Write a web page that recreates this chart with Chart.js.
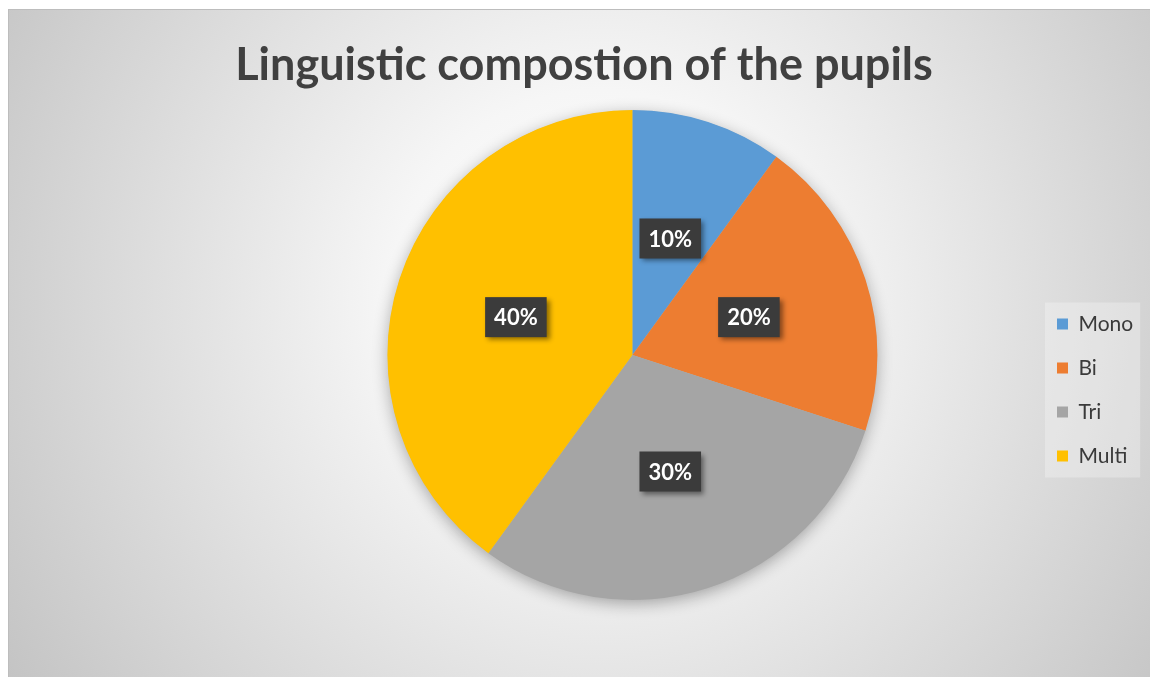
<!DOCTYPE html>
<html><head><meta charset="utf-8">
<script src="https://cdn.jsdelivr.net/npm/chart.js@4"></script>
<style>html,body{margin:0;padding:0;background:#fff;overflow:hidden}#wrap{width:1150px;height:677px;position:relative}</style>
</head><body><div id="wrap"><canvas id="c" width="1150" height="677"></canvas></div>
<script>
const chartTitle = 'Linguistic compostion of the pupils';
const categories = ['Mono', 'Bi', 'Tri', 'Multi'];
const shares = [10, 20, 30, 40];
const sliceColors = ['#5B9BD5', '#ED7D31', '#A5A5A5', '#FFC000'];

const FONT = 'Lato, "Open Sans", sans-serif';

const backgroundPlugin = {
  id: 'bg',
  beforeDraw(chart) {
    const ctx = chart.ctx, w = chart.width, h = chart.height;
    ctx.save();
    ctx.fillStyle = '#ffffff';
    ctx.fillRect(0, 0, w, h);
    const g = ctx.createRadialGradient(600, 300, 0, 600, 300, 700);
    g.addColorStop(0, '#ffffff');
    g.addColorStop(0.3, '#f6f6f6');
    g.addColorStop(1, '#c4c4c4');
    ctx.fillStyle = g;
    ctx.fillRect(8, 9, w - 8, h - 9);
    ctx.fillStyle = '#bdbdbd';
    ctx.fillRect(8, 9, w - 8, 1);
    ctx.fillRect(8, 9, 1, h - 9);
    // legend background
    const lg = chart.legend;
    if (lg && lg.legendHitBoxes && lg.legendHitBoxes.length) {
      const hb = lg.legendHitBoxes;
      const left = Math.min(...hb.map(b => b.left)) - 12;
      const right = Math.max(...hb.map(b => b.left + b.width)) + 7;
      const top = hb[0].top - 11;
      const bottom = hb[hb.length - 1].top + hb[hb.length - 1].height + 11;
      ctx.fillStyle = 'rgba(255,255,255,0.28)';
      ctx.fillRect(left, top, right - left, bottom - top);
    }
    ctx.restore();
  }
};

const layoutPlugin = {
  id: 'layoutTweak',
  afterLayout(chart) {
    const t = chart.titleBlock;
    if (t) { t.left = 18; t.right = 1150; t.width = t.right - t.left; }
    const lg = chart.legend;
    if (lg) {
      const dx = 1034 - lg.left;
      lg.left += dx; lg.right += dx;
      const h = lg.bottom - lg.top;
      lg.top = 390 - h / 2; lg.bottom = 390 + h / 2;
    }
  }
};

const shadowPlugin = {
  id: 'pieShadow',
  beforeDatasetsDraw(chart) {
    const meta = chart.getDatasetMeta(0);
    const el = meta.data[0];
    if (!el) return;
    const ctx = chart.ctx;
    ctx.save();
    ctx.shadowColor = 'rgba(0,0,0,0.32)';
    ctx.shadowBlur = 16;
    ctx.shadowOffsetX = 0;
    ctx.shadowOffsetY = 4;
    ctx.fillStyle = '#b5b5b5';
    ctx.beginPath();
    ctx.arc(el.x, el.y, el.outerRadius - 0.5, 0, Math.PI * 2);
    ctx.fill();
    ctx.restore();
  }
};

const labelPlugin = {
  id: 'sliceLabels',
  afterDatasetsDraw(chart) {
    const ctx = chart.ctx;
    const meta = chart.getDatasetMeta(0);
    ctx.save();
    ctx.font = 'bold 22px ' + FONT;
    ctx.textAlign = 'center';
    ctx.textBaseline = 'middle';
    meta.data.forEach((el, i) => {
      const p = el.tooltipPosition(true);
      const txt = shares[i] + '%';
      const tw = ctx.measureText(txt).width;
      const bw = tw + 18, bh = 40;
      ctx.save();
      ctx.shadowColor = 'rgba(0,0,0,0.45)';
      ctx.shadowBlur = 5;
      ctx.shadowOffsetX = 3;
      ctx.shadowOffsetY = 3;
      ctx.fillStyle = '#3b3b3b';
      ctx.fillRect(p.x - bw / 2, p.y - bh / 2, bw, bh);
      ctx.restore();
      ctx.fillStyle = '#ffffff';
      ctx.fillText(txt, p.x, p.y + 1);
    });
    ctx.restore();
  }
};

new Chart(document.getElementById('c'), {
  type: 'pie',
  data: {
    labels: categories,
    datasets: [{
      data: shares,
      backgroundColor: sliceColors,
      borderWidth: 0,
      hoverOffset: 0
    }]
  },
  options: {
    responsive: false,
    animation: false,
    devicePixelRatio: 1,
    layout: { padding: { top: 9, left: 236, right: 12, bottom: 77 } },
    plugins: {
      title: {
        display: true,
        text: chartTitle,
        color: '#404040',
        font: { family: FONT, size: 45, weight: 'bold', lineHeight: 1.2 },
        padding: { top: 29, bottom: 18 }
      },
      legend: {
        position: 'right',
        labels: {
          boxWidth: 11,
          boxHeight: 11,
          padding: 23,
          color: '#3a3a3a',
          font: { family: FONT, size: 21 }
        }
      },
      tooltip: { enabled: false }
    }
  },
  plugins: [backgroundPlugin, layoutPlugin, shadowPlugin, labelPlugin]
});
</script>
</body></html>
